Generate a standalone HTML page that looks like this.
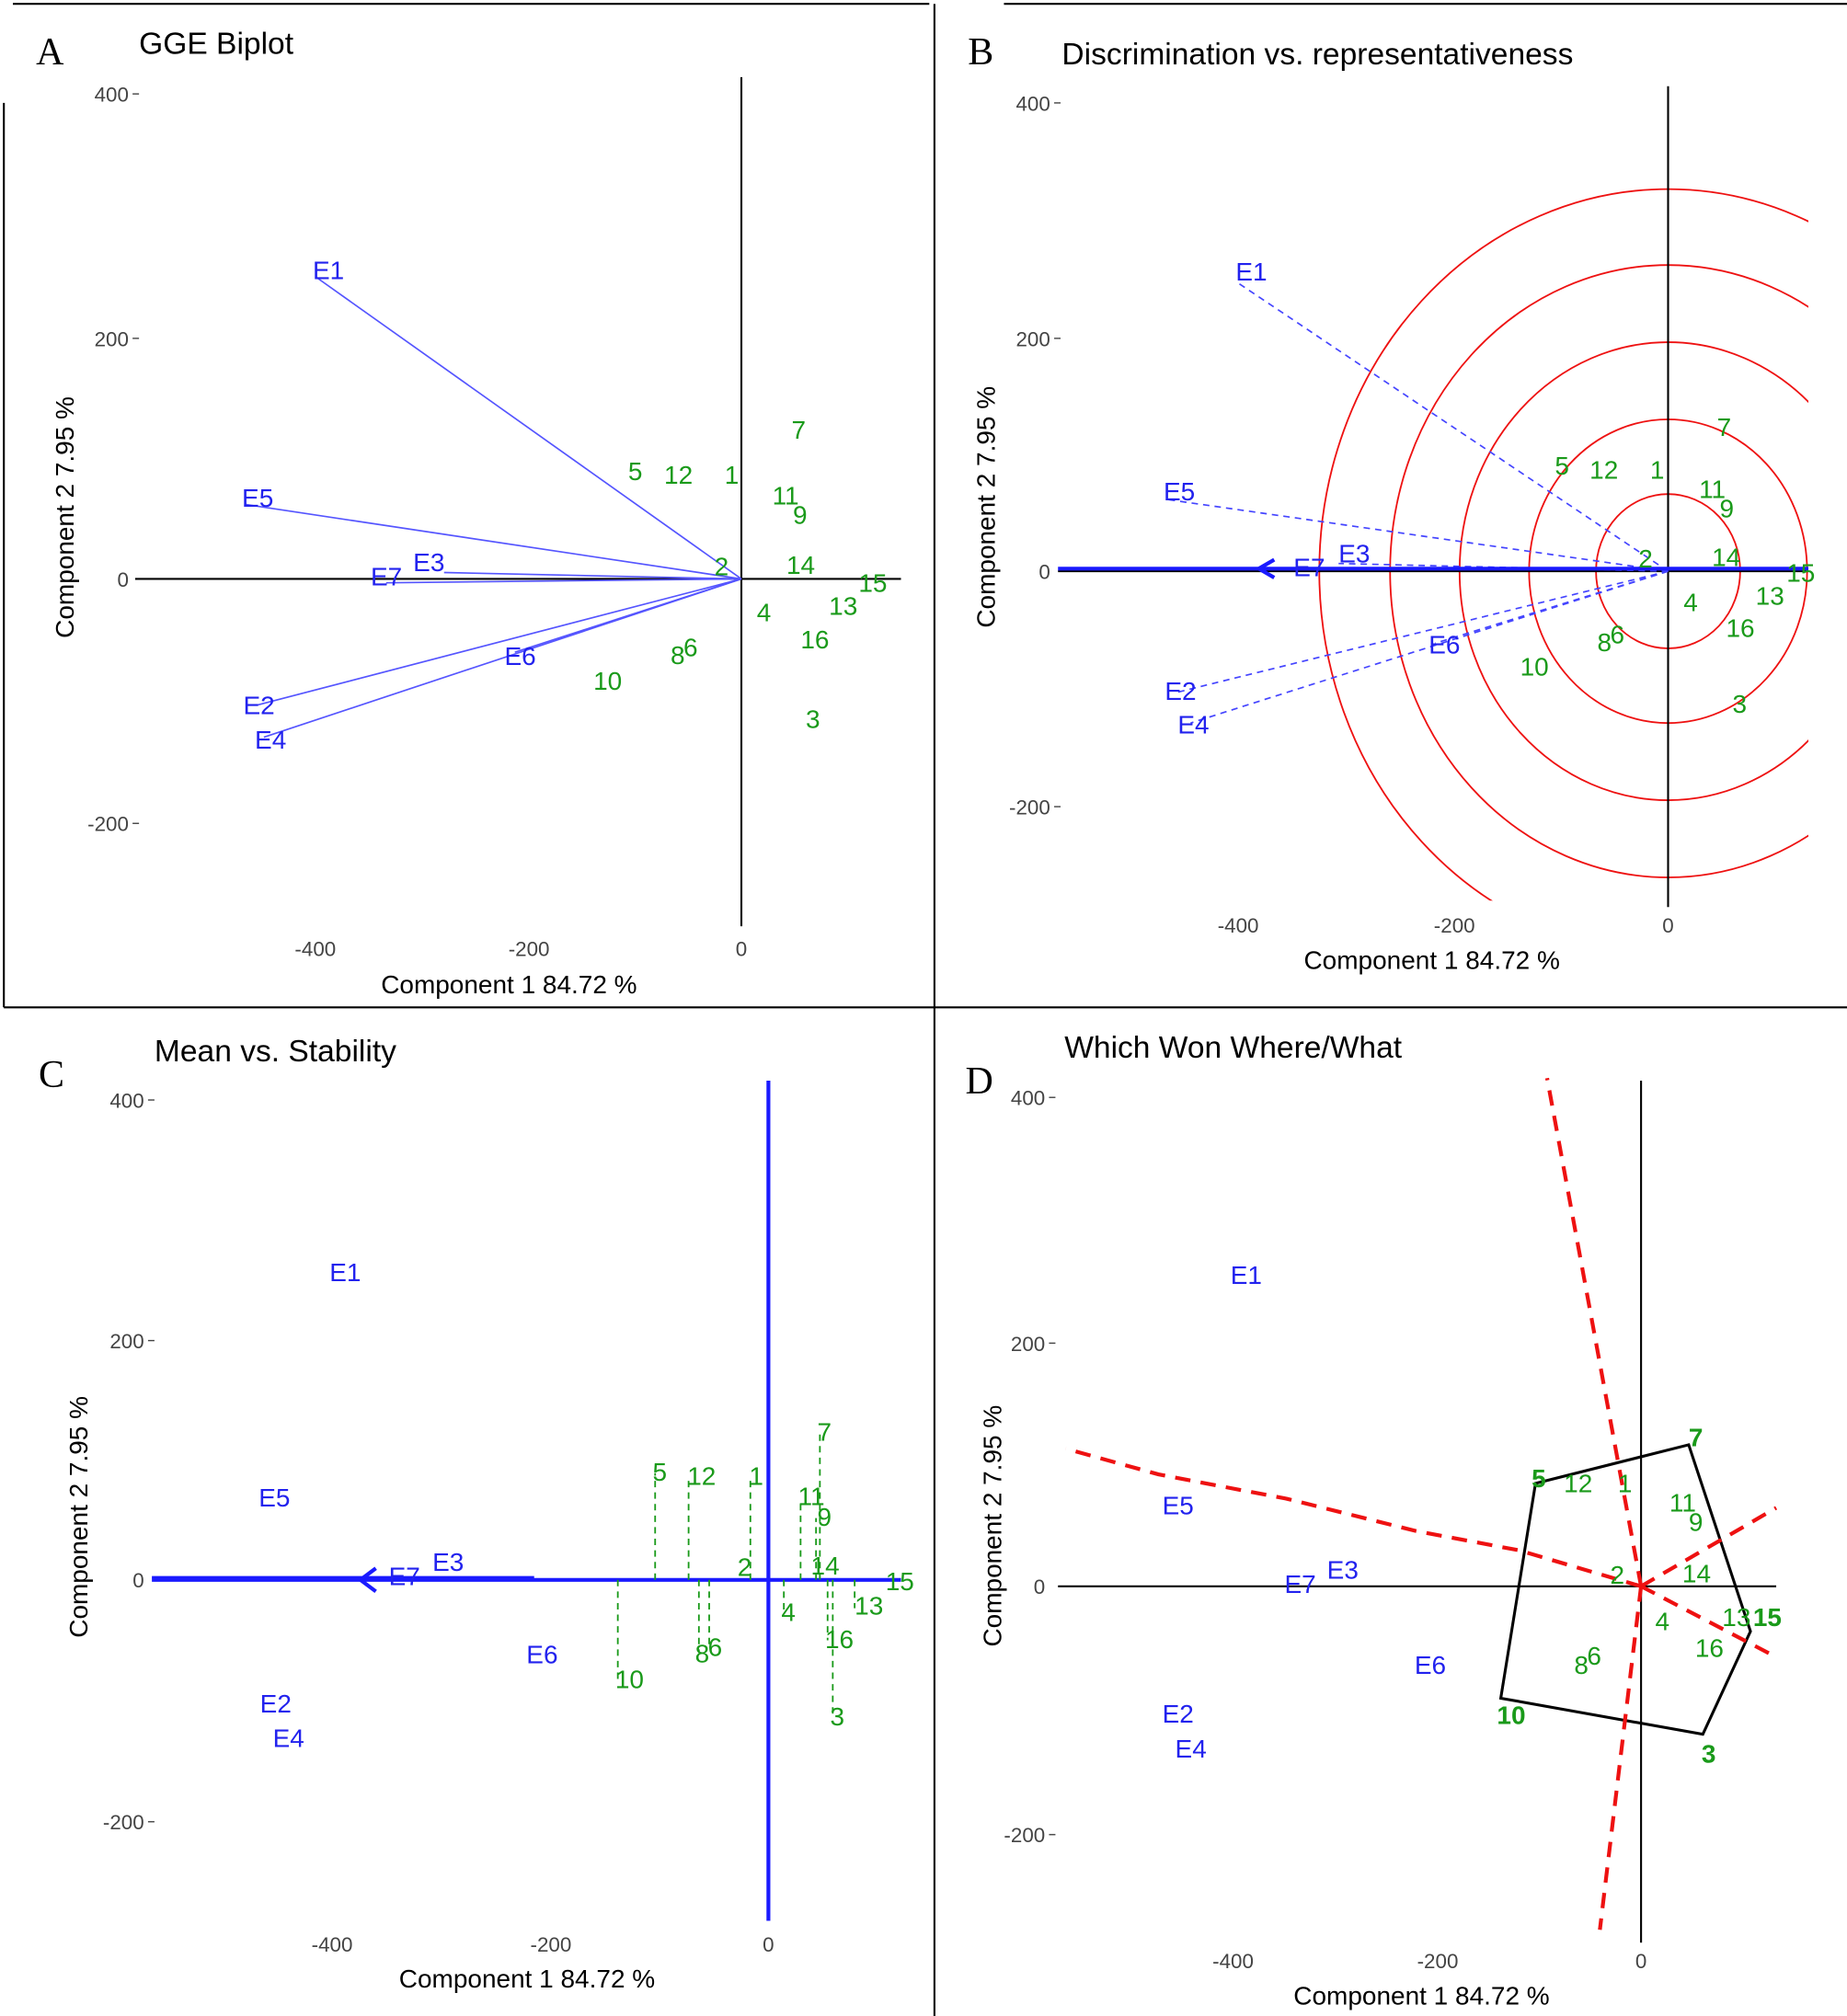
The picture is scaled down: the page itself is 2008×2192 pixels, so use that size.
<!DOCTYPE html>
<html><head><meta charset="utf-8"><style>html,body{margin:0;padding:0;background:#fff}svg{display:block}</style></head>
<body>
<svg width="2008" height="2192" viewBox="0 0 1435 1567" preserveAspectRatio="none" xmlns="http://www.w3.org/2000/svg" font-family="Liberation Sans, sans-serif">
<rect width="1435" height="1567" fill="#fff"/>
<!-- frame -->
<g stroke="#000" stroke-width="1.5">
<line x1="10" y1="3" x2="722" y2="3"/><line x1="780" y1="3" x2="1435" y2="3"/>
<line x1="726" y1="3" x2="726" y2="1567"/>
<line x1="3" y1="80" x2="3" y2="783"/>
<line x1="3" y1="783" x2="1435" y2="783"/>
</g>
<g font-family="Liberation Serif, serif" font-size="30" fill="#000">
<text x="28" y="50">A</text><text x="752" y="50">B</text><text x="30" y="845">C</text><text x="750" y="850">D</text>
</g>
<g font-size="24" fill="#000">
<text x="108" y="42">GGE Biplot</text>
<text x="825" y="50">Discrimination vs. representativeness</text>
<text x="120" y="825">Mean vs. Stability</text>
<text x="827" y="822">Which Won Where/What</text>
</g>
<!-- axis labels -->
<g font-size="20" fill="#000">
<text x="296" y="772">Component 1 84.72 %</text>
<text x="1013" y="753">Component 1 84.72 %</text>
<text x="310" y="1545">Component 1 84.72 %</text>
<text x="1005" y="1558">Component 1 84.72 %</text>
<text transform="translate(57,496) rotate(-90)">Component 2 7.95 %</text>
<text transform="translate(773,488) rotate(-90)">Component 2 7.95 %</text>
<text transform="translate(68,1273) rotate(-90)">Component 2 7.95 %</text>
<text transform="translate(778,1280) rotate(-90)">Component 2 7.95 %</text>
</g>
<!-- ticks -->
<g font-size="16" fill="#444" text-anchor="end">
<text x="100" y="79">400</text><text x="100" y="269">200</text><text x="100" y="456">0</text><text x="100" y="646">-200</text>
<text x="816" y="86">400</text><text x="816" y="269">200</text><text x="816" y="450">0</text><text x="816" y="633">-200</text>
<text x="112" y="861">400</text><text x="112" y="1048">200</text><text x="112" y="1234">0</text><text x="112" y="1422">-200</text>
<text x="812" y="859">400</text><text x="812" y="1050">200</text><text x="812" y="1239">0</text><text x="812" y="1432">-200</text>
</g>
<g stroke="#444"><line x1="103" y1="73" x2="108" y2="73"/><line x1="103" y1="263" x2="108" y2="263"/><line x1="103" y1="640" x2="108" y2="640"/>
<line x1="819" y1="80" x2="824" y2="80"/><line x1="819" y1="263" x2="824" y2="263"/><line x1="819" y1="627" x2="824" y2="627"/>
<line x1="115" y1="855" x2="120" y2="855"/><line x1="115" y1="1042" x2="120" y2="1042"/><line x1="115" y1="1416" x2="120" y2="1416"/>
<line x1="815" y1="853" x2="820" y2="853"/><line x1="815" y1="1044" x2="820" y2="1044"/><line x1="815" y1="1426" x2="820" y2="1426"/></g>
<g font-size="16" fill="#444" text-anchor="middle">
<text x="245" y="743">-400</text><text x="411" y="743">-200</text><text x="576" y="743">0</text>
<text x="962" y="725">-400</text><text x="1130" y="725">-200</text><text x="1296" y="725">0</text>
<text x="258" y="1517">-400</text><text x="428" y="1517">-200</text><text x="597" y="1517">0</text>
<text x="958" y="1530">-400</text><text x="1117" y="1530">-200</text><text x="1275" y="1530">0</text>
</g>

<!-- Panel A -->
<line x1="576" y1="60" x2="576" y2="720" stroke="#000" stroke-width="1.5"/>
<line x1="105" y1="450" x2="700" y2="450" stroke="#000" stroke-width="1.5"/>
<g stroke="#5555ff" stroke-width="1.2">
<line x1="576" y1="450" x2="245" y2="215"/><line x1="576" y1="450" x2="190" y2="392"/>
<line x1="576" y1="450" x2="345" y2="445"/><line x1="576" y1="450" x2="300" y2="453"/>
<line x1="576" y1="450" x2="400" y2="507"/><line x1="576" y1="450" x2="200" y2="548"/>
<line x1="576" y1="450" x2="205" y2="573"/></g>
<g font-size="20" fill="#2222ee">
<text x="243" y="217">E1</text><text x="188" y="394">E5</text><text x="321" y="444">E3</text><text x="288" y="455">E7</text>
<text x="392" y="517">E6</text><text x="189" y="555">E2</text><text x="198" y="582">E4</text></g>
<g font-size="20" fill="#1a9a1a">
<text x="615" y="341">7</text><text x="488" y="373">5</text><text x="516" y="376">12</text><text x="563" y="376">1</text>
<text x="600" y="392">11</text><text x="616" y="407">9</text><text x="555" y="447">2</text><text x="611" y="446">14</text>
<text x="667" y="460">15</text><text x="588" y="483">4</text><text x="644" y="478">13</text><text x="622" y="504">16</text>
<text x="521" y="516">8</text><text x="531" y="510">6</text><text x="461" y="536">10</text><text x="626" y="566">3</text></g>

<!-- Panel B -->
<defs><clipPath id="cb"><rect x="800" y="60" width="605" height="640"/></clipPath></defs>
<g clip-path="url(#cb)" fill="none" stroke="#ee1111" stroke-width="1.3">
<ellipse cx="1296" cy="444" rx="56" ry="60"/><ellipse cx="1296" cy="444" rx="108" ry="118"/>
<ellipse cx="1296" cy="444" rx="162" ry="178"/><ellipse cx="1296" cy="444" rx="216" ry="238"/>
<ellipse cx="1296" cy="444" rx="271" ry="297"/></g>
<line x1="1296" y1="67" x2="1296" y2="705" stroke="#000" stroke-width="1.5"/>
<line x1="822" y1="444" x2="1405" y2="444" stroke="#000" stroke-width="1.5"/>
<g stroke="#4444ff" stroke-width="1.2" stroke-dasharray="5,4">
<line x1="1296" y1="444" x2="962" y2="220"/><line x1="1296" y1="444" x2="905" y2="388"/>
<line x1="1296" y1="444" x2="1040" y2="438"/><line x1="1296" y1="444" x2="915" y2="538"/>
<line x1="1296" y1="444" x2="925" y2="562"/><line x1="1296" y1="444" x2="1115" y2="500"/></g>
<line x1="822" y1="442" x2="1405" y2="442" stroke="#1a1aff" stroke-width="3"/>
<polyline points="990,435 978,442 990,449" fill="none" stroke="#1a1aff" stroke-width="3"/>
<g font-size="20" fill="#2222ee">
<text x="960" y="218">E1</text><text x="904" y="389">E5</text><text x="1040" y="437">E3</text><text x="1005" y="448">E7</text>
<text x="1110" y="508">E6</text><text x="905" y="544">E2</text><text x="915" y="570">E4</text></g>
<g font-size="20" fill="#1a9a1a">
<text x="1334" y="339">7</text><text x="1208" y="369">5</text><text x="1235" y="372">12</text><text x="1282" y="372">1</text>
<text x="1320" y="387">11</text><text x="1336" y="402">9</text><text x="1273" y="441">2</text><text x="1330" y="440">14</text>
<text x="1388" y="452">15</text><text x="1308" y="475">4</text><text x="1364" y="470">13</text><text x="1341" y="495">16</text>
<text x="1241" y="506">8</text><text x="1251" y="500">6</text><text x="1181" y="525">10</text><text x="1346" y="554">3</text></g>

<!-- Panel C -->
<line x1="597" y1="840" x2="597" y2="1493" stroke="#1a1aff" stroke-width="3"/>
<line x1="118" y1="1228" x2="700" y2="1228" stroke="#1a1aff" stroke-width="3"/>
<line x1="118" y1="1226" x2="415" y2="1226" stroke="#1a1aff" stroke-width="2"/>
<polyline points="292,1219 280,1228 292,1237" fill="none" stroke="#1a1aff" stroke-width="3"/>
<g stroke="#1a9a1a" stroke-width="1.3" stroke-dasharray="5,4">
<line x1="637" y1="1228" x2="637" y2="1115"/><line x1="509" y1="1228" x2="509" y2="1145"/>
<line x1="535" y1="1228" x2="535" y2="1148"/><line x1="583" y1="1228" x2="583" y2="1148"/>
<line x1="622" y1="1228" x2="622" y2="1165"/><line x1="634" y1="1228" x2="634" y2="1180"/>
<line x1="480" y1="1228" x2="480" y2="1305"/><line x1="543" y1="1228" x2="543" y2="1285"/>
<line x1="551" y1="1228" x2="551" y2="1280"/><line x1="609" y1="1228" x2="609" y2="1255"/>
<line x1="643" y1="1228" x2="643" y2="1275"/><line x1="647" y1="1228" x2="647" y2="1335"/>
<line x1="664" y1="1228" x2="664" y2="1250"/></g>
<g font-size="20" fill="#2222ee">
<text x="256" y="996">E1</text><text x="201" y="1171">E5</text><text x="336" y="1221">E3</text><text x="302" y="1232">E7</text>
<text x="409" y="1293">E6</text><text x="202" y="1331">E2</text><text x="212" y="1358">E4</text></g>
<g font-size="20" fill="#1a9a1a">
<text x="635" y="1120">7</text><text x="507" y="1151">5</text><text x="534" y="1154">12</text><text x="582" y="1154">1</text>
<text x="620" y="1170">11</text><text x="635" y="1186">9</text><text x="573" y="1225">2</text><text x="630" y="1224">14</text>
<text x="688" y="1236">15</text><text x="607" y="1260">4</text><text x="664" y="1255">13</text><text x="641" y="1281">16</text>
<text x="540" y="1292">8</text><text x="550" y="1287">6</text><text x="478" y="1312">10</text><text x="645" y="1341">3</text></g>

<!-- Panel D -->
<line x1="1275" y1="840" x2="1275" y2="1510" stroke="#000" stroke-width="1.5"/>
<line x1="822" y1="1233" x2="1380" y2="1233" stroke="#000" stroke-width="1.5"/>
<polygon points="1193,1153 1312,1123 1360,1268 1323,1348 1166,1320" fill="none" stroke="#000" stroke-width="2.2"/>
<g stroke="#ee1111" stroke-width="3" stroke-dasharray="12,8" fill="none">
<line x1="1275" y1="1233" x2="1202" y2="838"/><line x1="1275" y1="1233" x2="1243" y2="1500"/>
<polyline points="1275,1233 1180,1205 1100,1190 1000,1165 900,1146 828,1126"/>
<line x1="1275" y1="1233" x2="1380" y2="1172"/><line x1="1275" y1="1233" x2="1380" y2="1288"/></g>
<g font-size="20" fill="#2222ee">
<text x="956" y="998">E1</text><text x="903" y="1177">E5</text><text x="1031" y="1227">E3</text><text x="998" y="1238">E7</text>
<text x="1099" y="1301">E6</text><text x="903" y="1339">E2</text><text x="913" y="1366">E4</text></g>
<g font-size="20" fill="#1a9a1a">
<text x="1312" y="1124" font-weight="bold">7</text><text x="1190" y="1156" font-weight="bold">5</text><text x="1215" y="1160">12</text><text x="1257" y="1160">1</text>
<text x="1297" y="1175">11</text><text x="1312" y="1190">9</text><text x="1251" y="1231">2</text><text x="1307" y="1230">14</text>
<text x="1338" y="1264">13</text><text x="1362" y="1264" font-weight="bold">15</text><text x="1286" y="1267">4</text><text x="1317" y="1288">16</text>
<text x="1223" y="1301">8</text><text x="1233" y="1294">6</text><text x="1163" y="1340" font-weight="bold">10</text><text x="1322" y="1370" font-weight="bold">3</text></g>
</svg>
</body></html>
